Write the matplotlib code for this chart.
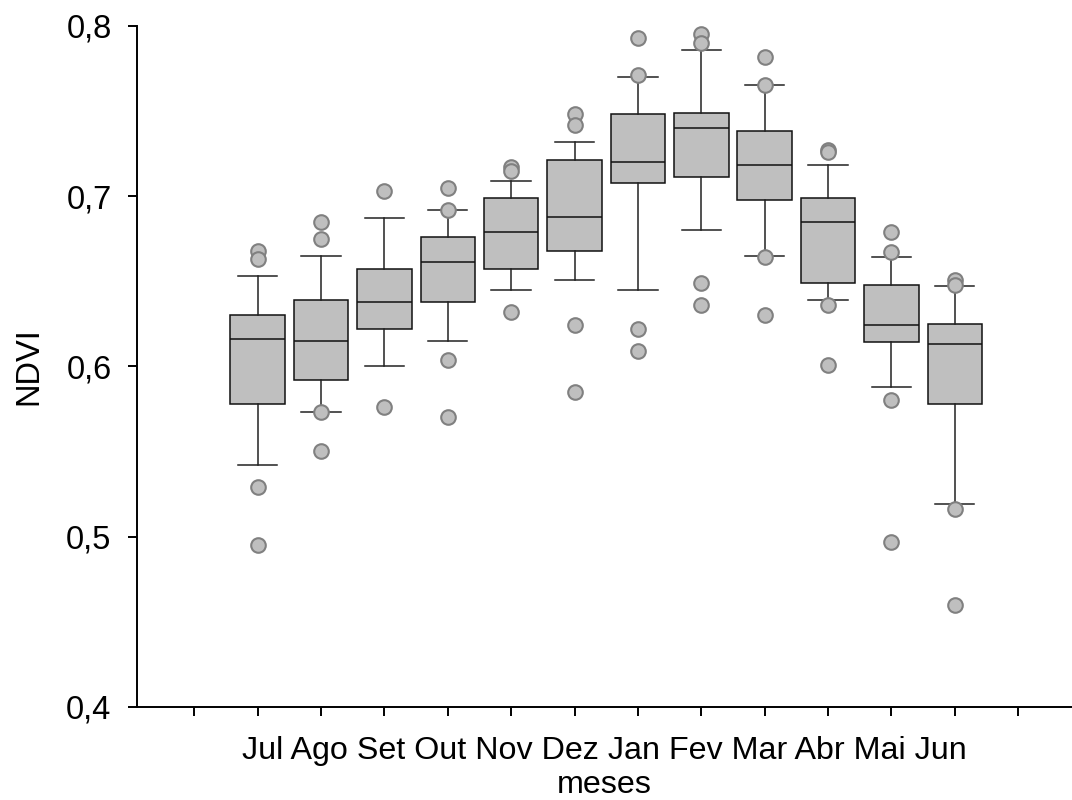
import numpy as np
import matplotlib
matplotlib.use("Agg")
import matplotlib.pyplot as plt

plt.rcParams['font.family'] = ['Liberation Sans', 'DejaVu Sans']

# months (hydrological year, Jul -> Jun)
meses = ["Jul", "Ago", "Set", "Out", "Nov", "Dez", "Jan", "Fev", "Mar", "Abr", "Mai", "Jun"]

# box stats
whislo = [0.542, 0.573, 0.600, 0.615, 0.645, 0.651, 0.645, 0.680, 0.665, 0.639, 0.588, 0.519]
q1     = [0.578, 0.592, 0.622, 0.638, 0.657, 0.668, 0.708, 0.711, 0.698, 0.649, 0.614, 0.578]
med    = [0.616, 0.615, 0.638, 0.661, 0.679, 0.688, 0.720, 0.740, 0.718, 0.685, 0.624, 0.613]
q3     = [0.630, 0.639, 0.657, 0.676, 0.699, 0.721, 0.748, 0.749, 0.738, 0.699, 0.648, 0.625]
whishi = [0.653, 0.665, 0.687, 0.692, 0.709, 0.732, 0.770, 0.786, 0.765, 0.718, 0.664, 0.647]

fliers = [
    [0.668, 0.663, 0.529, 0.495],
    [0.685, 0.675, 0.573, 0.550],
    [0.703, 0.576],
    [0.705, 0.692, 0.604, 0.570],
    [0.717, 0.715, 0.632],
    [0.748, 0.742, 0.624, 0.585],
    [0.793, 0.771, 0.622, 0.609],
    [0.795, 0.790, 0.649, 0.636],
    [0.782, 0.765, 0.664, 0.630],
    [0.727, 0.726, 0.636, 0.601],
    [0.679, 0.667, 0.580, 0.497],
    [0.651, 0.648, 0.516, 0.460],
]

yticks = [0.4, 0.5, 0.6, 0.7, 0.8]
ylabels = ["0,4", "0,5", "0,6", "0,7", "0,8"]

stats = []
for i in range(len(meses)):
    stats.append(dict(whislo=whislo[i], q1=q1[i], med=med[i], q3=q3[i],
                      whishi=whishi[i], fliers=fliers[i], label=meses[i]))

fig = plt.figure(figsize=(10.72, 8), dpi=100)
ax = fig.add_axes([0.128, 0.1166, 0.872, 0.851])

pos = np.arange(1, len(meses) + 1)
ax.bxp(stats, positions=pos, widths=0.86, capwidths=0.62, patch_artist=True,
       boxprops=dict(facecolor="#bfbfbf", edgecolor="#111111", linewidth=1.1),
       medianprops=dict(color="#111111", linewidth=1.1),
       whiskerprops=dict(color="#222222", linewidth=1.1),
       capprops=dict(color="#222222", linewidth=1.1),
       flierprops=dict(marker="o", markersize=10.5, markerfacecolor="#bfbfbf",
                       markeredgecolor="#808080", markeredgewidth=1.5))

ax.set_xlim(-0.9, 13.85)
ax.set_ylim(0.4, 0.8)
ax.set_xticks(np.arange(0, 14))
ax.set_xticklabels([""] * 14)
ax.set_yticks(yticks)
ax.set_yticklabels(ylabels, fontsize=23.5)

for s in ["top", "right"]:
    ax.spines[s].set_visible(False)
for s in ["left", "bottom"]:
    ax.spines[s].set_linewidth(1.4)
ax.tick_params(axis="both", direction="out", length=6.5, width=1.4)
ax.tick_params(axis="y", pad=12)

ax.set_ylabel("NDVI", fontsize=23.5, labelpad=16)
ax.set_xlabel(" ".join(meses) + "\nmeses", fontsize=23.2, linespacing=1.18, labelpad=11)

fig.savefig("out.png", dpi=100)
